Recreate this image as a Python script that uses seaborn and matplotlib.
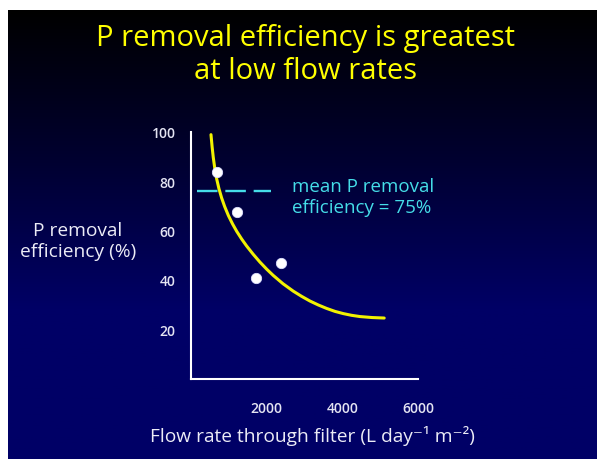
import numpy as np
import pandas as pd
import seaborn as sns
import matplotlib.pyplot as plt
from matplotlib.colors import LinearSegmentedColormap

# measured filters (flow rate, P removal efficiency)
flow_pts = [680, 1210, 1720, 2385]
eff_pts = [83.6, 67.3, 40.7, 47.0]

# fitted curve
curve_flow = [530, 560, 590, 630, 680, 740, 810, 890, 990, 1100, 1210, 1340, 1470,
              1640, 1820, 2000, 2170, 2430, 2700, 2920, 3140, 3360, 3580, 3800,
              4020, 4240, 4460, 4780, 5100]
curve_eff = [98.8, 93.8, 89.6, 85.2, 80.9, 76.9, 73.2, 69.7, 66.0, 62.6, 59.6, 56.5, 53.7,
             50.4, 47.2, 44.3, 41.8, 38.4, 35.4, 33.3, 31.4, 29.8, 28.4, 27.2,
             26.3, 25.6, 25.1, 24.7, 24.5]

# mean efficiency line
mean_flow = [150, 2110]
mean_eff = [76, 76]

x_ticks = [2000, 4000, 6000]
y_ticks = [20, 40, 60, 80, 100]

title = "P removal efficiency is greatest\nat low flow rates"
xlab = "Flow rate through filter (L day\u207b\u00b9 m\u207b\u00b2)"
ylab = "P removal\nefficiency (%)"
note = "mean P removal\nefficiency = 75%"

sns.set_style("white")
plt.rcParams['font.family'] = ['Open Sans', 'DejaVu Sans']

W, H = 597, 460
fig = plt.figure(figsize=(W / 100, H / 100), dpi=100, facecolor="white")

# slide background: black at top fading to navy
bg = fig.add_axes([8 / W, 0, (W - 8) / W, (H - 11) / H])
cmap = LinearSegmentedColormap.from_list("slide", ["#000000", "#000030", "#000066", "#000066"])
grad = np.linspace(0, 1, 256).reshape(-1, 1)
bg.imshow(grad, aspect="auto", cmap=cmap, extent=[0, 1, 0, 1], origin="upper")
bg.set_axis_off()

fig.text(306 / W, 1 - 55 / H, title, color="#ffff00", fontsize=21,
         ha="center", va="center", linespacing=1.2)

ax = fig.add_axes([190.9 / W, (H - 379.5) / H, 227.4 / W, 246.8 / H])
ax.patch.set_alpha(0)

sns.lineplot(x=curve_flow, y=curve_eff, ax=ax, color="#f2f200", linewidth=2.2,
             sort=False, estimator=None)
ax.plot(mean_flow, mean_eff, color="#45dde8", linewidth=1.7,
        dashes=(8.7, 3.3), solid_capstyle="butt", dash_capstyle="butt")
sns.scatterplot(x=flow_pts, y=eff_pts, ax=ax, color="white", s=55,
                edgecolor="#dde0ff", linewidth=0.6, zorder=5)

ax.set_xlim(0, 6000)
ax.set_ylim(0, 100)
ax.set_xticks(x_ticks)
ax.set_yticks(y_ticks)
for sp in ["top", "right"]:
    ax.spines[sp].set_visible(False)
for sp in ["left", "bottom"]:
    ax.spines[sp].set_color("white")
    ax.spines[sp].set_linewidth(1.5)
ax.tick_params(axis="y", direction="out", length=7, width=1.5, color="white",
               labelcolor="#e4e4f2", labelsize=10, pad=4)
ax.tick_params(axis="x", direction="out", length=6.5, width=1.5, color="white",
               labelcolor="#e4e4f2", labelsize=10, pad=10)
for lbl in ax.get_xticklabels() + ax.get_yticklabels():
    lbl.set_fontweight("semibold")

ax.set_xlabel(xlab, color="#ececf6", fontsize=13.8)
ax.xaxis.set_label_coords(0.533, -0.229)
ax.xaxis.label.set_va("center")
ax.set_ylabel(ylab, color="#ececf6", fontsize=13.8, rotation=0,
              ha="center", va="center", multialignment="center", linespacing=1.2)
ax.yaxis.set_label_coords(-0.496, 0.56)

ax.text(0.443, 0.815, note, transform=ax.transAxes, color="#45dde8",
        fontsize=13.5, ha="left", va="top", linespacing=1.2)

fig.savefig("out.png", dpi=100, facecolor=fig.get_facecolor())
